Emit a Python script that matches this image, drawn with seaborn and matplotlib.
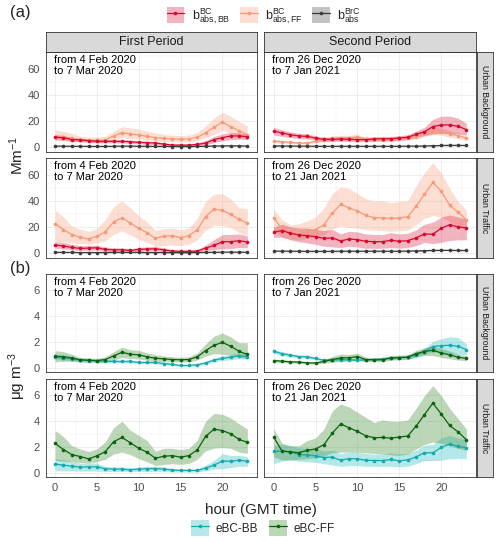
import numpy as np
import pandas as pd
import matplotlib
matplotlib.use("Agg")
import matplotlib.pyplot as plt
import seaborn as sns
from matplotlib.patches import Patch
from matplotlib.lines import Line2D
from matplotlib.legend_handler import HandlerTuple

sns.set_style("white")
plt.rcParams['font.family'] = ['Liberation Sans', 'DejaVu Sans']
plt.rcParams['mathtext.fontset'] = 'custom'
plt.rcParams['mathtext.rm'] = 'Liberation Sans'
plt.rcParams['mathtext.it'] = 'Liberation Sans'

hours = list(range(24))
periods = ["First Period", "Second Period"]
sites = ["Urban Background", "Urban Traffic"]
period_text = {
    ("Urban Background", "First Period"): "from 4 Feb 2020\nto 7 Mar 2020",
    ("Urban Traffic", "First Period"): "from 4 Feb 2020\nto 7 Mar 2020",
    ("Urban Background", "Second Period"): "from 26 Dec 2020\nto 7 Jan 2021",
    ("Urban Traffic", "Second Period"): "from 26 Dec 2020\nto 21 Jan 2021",
}
x_ticks = [0, 5, 10, 15, 20]

# ---------------- (a) absorption coefficients, Mm-1 ----------------
# Urban Background, First Period
a_ub1_bb = [7.8, 7.5, 6.0, 5.8, 5.2, 4.7, 4.7, 4.7, 4.7, 4.4, 3.9, 3.7, 3.4, 2.6, 1.8, 1.8, 1.8, 2.3, 3.4, 6.0, 7.5, 8.8, 8.8, 8.3]
a_ub1_bb_lo = [5.8, 5.8, 4.6, 4.5, 4.0, 3.6, 3.6, 3.5, 3.5, 3.2, 2.8, 2.6, 2.3, 1.6, 0.9, 0.9, 0.9, 1.3, 2.0, 3.8, 5.0, 6.0, 6.3, 6.0]
a_ub1_bb_hi = [9.8, 9.3, 7.5, 7.2, 6.5, 5.9, 5.9, 5.9, 5.9, 5.6, 5.0, 4.8, 4.5, 3.6, 2.7, 2.7, 2.8, 3.5, 5.2, 8.5, 10.3, 11.5, 11.2, 10.5]
a_ub1_ff = [8.3, 8.0, 7.2, 6.0, 5.6, 5.6, 5.8, 8.8, 11.4, 10.3, 9.6, 8.5, 7.6, 7.0, 6.6, 6.3, 6.5, 7.8, 11.2, 15.5, 19.4, 16.0, 12.8, 9.8]
a_ub1_ff_lo = [5.5, 5.3, 4.8, 4.0, 3.7, 3.7, 3.9, 5.8, 7.5, 6.8, 6.3, 5.6, 5.0, 4.6, 4.4, 4.2, 4.3, 5.2, 7.4, 10.0, 13.0, 11.0, 8.5, 6.5]
a_ub1_ff_hi = [13.5, 12.5, 10.5, 8.5, 8.0, 8.0, 8.5, 12.5, 16.0, 15.0, 14.0, 12.5, 11.0, 10.0, 9.5, 9.0, 9.5, 11.5, 16.5, 22.5, 27.0, 24.0, 20.0, 16.5]
a_ub1_brc = [1.0, 1.0, 0.9, 0.9, 0.8, 0.8, 0.8, 0.9, 1.0, 1.0, 0.9, 0.9, 0.8, 0.8, 0.7, 0.7, 0.7, 0.8, 0.9, 1.1, 1.2, 1.2, 1.2, 1.1]
a_ub1_brc_lo = [0.7, 0.7, 0.6, 0.6, 0.5, 0.5, 0.5, 0.6, 0.7, 0.7, 0.6, 0.6, 0.5, 0.5, 0.4, 0.4, 0.4, 0.5, 0.6, 0.8, 0.9, 0.9, 0.9, 0.8]
a_ub1_brc_hi = [1.3, 1.3, 1.2, 1.2, 1.1, 1.1, 1.1, 1.2, 1.3, 1.3, 1.2, 1.2, 1.1, 1.1, 1.0, 1.0, 1.0, 1.1, 1.2, 1.4, 1.5, 1.5, 1.5, 1.4]

# Urban Background, Second Period
a_ub2_bb = [12.7, 11.1, 9.8, 8.8, 8.5, 7.2, 6.2, 6.2, 6.5, 6.2, 6.0, 6.0, 6.5, 6.7, 6.7, 7.2, 7.8, 10.1, 12.1, 16.0, 17.3, 17.3, 16.3, 13.7]
a_ub2_bb_lo = [9.5, 8.5, 7.5, 6.8, 6.5, 5.5, 4.5, 4.5, 4.8, 4.5, 4.3, 4.3, 4.8, 5.0, 5.0, 5.5, 6.0, 7.8, 9.0, 10.5, 10.8, 10.8, 10.5, 9.5]
a_ub2_bb_hi = [15.5, 13.5, 12.0, 10.8, 10.5, 9.0, 8.0, 8.0, 8.2, 8.0, 7.8, 7.8, 8.2, 8.5, 8.5, 9.0, 9.8, 12.5, 15.5, 21.5, 24.0, 24.0, 22.5, 18.5]
a_ub2_ff = [4.9, 4.4, 3.9, 3.4, 3.4, 4.7, 5.7, 7.0, 7.5, 7.5, 8.0, 6.5, 6.2, 5.9, 6.2, 7.0, 7.5, 8.3, 10.9, 13.0, 12.1, 10.5, 9.0, 7.2]
a_ub2_ff_lo = [3.8, 3.4, 3.0, 2.6, 2.6, 3.5, 4.3, 5.3, 5.7, 5.7, 6.0, 5.0, 4.8, 4.6, 4.8, 5.4, 5.8, 6.5, 8.5, 10.0, 9.3, 8.0, 6.8, 5.5]
a_ub2_ff_hi = [6.0, 5.4, 4.8, 4.2, 4.2, 5.9, 7.1, 8.7, 9.3, 9.3, 10.0, 8.0, 7.6, 7.2, 7.6, 8.6, 9.2, 10.1, 13.3, 16.0, 15.0, 13.0, 11.2, 9.0]
a_ub2_brc = [1.2, 1.1, 1.1, 1.0, 1.0, 0.9, 0.9, 0.9, 0.9, 0.9, 0.9, 0.9, 0.9, 0.9, 0.9, 0.9, 1.0, 1.0, 1.1, 1.3, 1.5, 1.6, 1.6, 1.5]
a_ub2_brc_lo = [0.9, 0.8, 0.8, 0.7, 0.7, 0.6, 0.6, 0.6, 0.6, 0.6, 0.6, 0.6, 0.6, 0.6, 0.6, 0.6, 0.7, 0.7, 0.8, 1.0, 1.1, 1.2, 1.2, 1.1]
a_ub2_brc_hi = [1.5, 1.4, 1.4, 1.3, 1.3, 1.2, 1.2, 1.2, 1.2, 1.2, 1.2, 1.2, 1.2, 1.2, 1.2, 1.2, 1.3, 1.3, 1.4, 1.6, 1.9, 2.0, 2.0, 1.9]

# Urban Traffic, First Period
a_ut1_bb = [6.5, 5.7, 4.6, 3.9, 4.1, 4.4, 3.1, 2.8, 2.8, 2.3, 3.1, 3.4, 3.6, 2.8, 1.8, 1.6, 1.6, 1.8, 4.1, 6.2, 9.0, 9.0, 9.8, 8.8]
a_ut1_bb_lo = [4.0, 3.5, 2.8, 2.3, 2.4, 2.6, 1.7, 1.5, 1.5, 1.2, 1.7, 1.9, 2.0, 1.5, 0.9, 0.8, 0.8, 0.9, 2.0, 3.0, 3.5, 3.8, 4.5, 4.3]
a_ut1_bb_hi = [9.0, 8.5, 7.0, 6.0, 6.2, 6.5, 4.8, 4.3, 4.3, 3.6, 4.6, 5.0, 5.4, 4.3, 2.9, 2.5, 2.5, 2.8, 6.5, 10.5, 14.5, 14.5, 15.0, 13.5]
a_ut1_ff = [22.7, 18.3, 14.5, 12.4, 11.1, 13.2, 16.5, 24.3, 27.4, 23.3, 19.4, 15.8, 11.6, 13.2, 13.7, 12.1, 13.7, 18.1, 28.2, 34.1, 33.1, 30.0, 26.1, 23.3]
a_ut1_ff_lo = [9.0, 9.0, 8.0, 7.5, 7.0, 8.0, 10.0, 14.5, 17.5, 14.0, 11.0, 8.5, 5.5, 6.0, 6.5, 6.0, 7.0, 10.5, 18.0, 21.5, 21.5, 20.0, 16.0, 14.0]
a_ut1_ff_hi = [33.0, 28.0, 21.0, 18.5, 17.0, 19.0, 26.0, 36.0, 40.5, 35.0, 29.0, 24.0, 17.5, 19.0, 19.5, 18.0, 19.5, 27.0, 40.0, 45.5, 46.0, 42.0, 35.0, 34.5]
a_ut1_brc = [0.9, 0.8, 0.8, 0.7, 0.7, 0.7, 0.7, 0.8, 0.8, 0.8, 0.8, 0.7, 0.7, 0.7, 0.6, 0.6, 0.6, 0.7, 0.8, 0.9, 1.0, 1.0, 1.0, 0.9]
a_ut1_brc_lo = [0.6, 0.5, 0.5, 0.4, 0.4, 0.4, 0.4, 0.5, 0.5, 0.5, 0.5, 0.4, 0.4, 0.4, 0.3, 0.3, 0.3, 0.4, 0.5, 0.6, 0.7, 0.7, 0.7, 0.6]
a_ut1_brc_hi = [1.2, 1.1, 1.1, 1.0, 1.0, 1.0, 1.0, 1.1, 1.1, 1.1, 1.1, 1.0, 1.0, 1.0, 0.9, 0.9, 0.9, 1.0, 1.1, 1.2, 1.3, 1.3, 1.3, 1.2]

# Urban Traffic, Second Period
a_ut2_bb = [16.3, 17.6, 15.5, 14.2, 13.7, 12.9, 11.6, 11.9, 9.6, 11.1, 10.6, 9.3, 9.0, 9.0, 10.1, 9.3, 9.8, 11.9, 15.0, 14.7, 19.4, 22.0, 20.4, 19.6]
a_ut2_bb_lo = [12.4, 12.5, 10.5, 9.0, 8.0, 7.0, 5.5, 5.0, 4.6, 5.5, 5.0, 4.0, 4.0, 4.0, 4.5, 4.0, 4.5, 6.0, 8.5, 7.5, 8.5, 10.0, 10.5, 10.5]
a_ut2_bb_hi = [20.0, 22.5, 20.5, 19.5, 19.5, 18.5, 17.5, 18.5, 15.0, 17.0, 16.5, 15.0, 14.5, 14.5, 16.0, 15.0, 15.5, 18.0, 22.5, 24.0, 27.9, 29.5, 28.0, 26.5]
a_ut2_ff = [27.4, 18.9, 15.5, 14.5, 17.0, 18.3, 22.0, 31.0, 37.7, 35.0, 32.6, 29.2, 27.4, 27.4, 26.9, 27.4, 28.2, 36.2, 45.5, 54.5, 47.8, 37.0, 31.8, 25.8]
a_ut2_ff_lo = [17.6, 12.5, 11.0, 10.5, 11.5, 12.5, 14.5, 19.0, 21.0, 20.0, 19.5, 18.5, 18.0, 17.5, 17.0, 17.5, 18.0, 22.0, 27.0, 29.0, 28.0, 24.5, 21.0, 18.0]
a_ut2_ff_hi = [34.0, 26.0, 22.0, 22.7, 25.0, 28.0, 35.0, 46.0, 51.0, 50.0, 46.0, 42.0, 40.0, 40.5, 39.0, 40.0, 40.5, 52.0, 62.0, 69.7, 62.0, 50.0, 40.0, 33.0]
a_ut2_brc = [1.8, 1.8, 1.7, 1.7, 1.6, 1.6, 1.6, 1.6, 1.7, 1.7, 1.7, 1.7, 1.7, 1.7, 1.7, 1.7, 1.8, 1.9, 2.1, 2.3, 2.4, 2.4, 2.3, 2.3]
a_ut2_brc_lo = [1.4, 1.4, 1.3, 1.3, 1.2, 1.2, 1.2, 1.2, 1.3, 1.3, 1.3, 1.3, 1.3, 1.3, 1.3, 1.3, 1.4, 1.5, 1.7, 1.9, 2.0, 2.0, 1.9, 1.9]
a_ut2_brc_hi = [2.2, 2.2, 2.1, 2.1, 2.0, 2.0, 2.0, 2.0, 2.1, 2.1, 2.1, 2.1, 2.1, 2.1, 2.1, 2.1, 2.2, 2.3, 2.5, 2.7, 2.8, 2.8, 2.7, 2.7]

# ---------------- (b) equivalent black carbon, ug m-3 ----------------
b_ub1_bb = [0.82, 0.74, 0.69, 0.59, 0.56, 0.54, 0.49, 0.49, 0.49, 0.49, 0.41, 0.41, 0.41, 0.33, 0.26, 0.18, 0.18, 0.23, 0.38, 0.59, 0.72, 0.82, 0.92, 0.85]
b_ub1_bb_lo = [0.68, 0.6, 0.56, 0.47, 0.45, 0.43, 0.38, 0.38, 0.38, 0.38, 0.31, 0.31, 0.31, 0.24, 0.18, 0.11, 0.11, 0.15, 0.27, 0.44, 0.55, 0.62, 0.7, 0.66]
b_ub1_bb_hi = [0.96, 0.88, 0.82, 0.71, 0.67, 0.65, 0.6, 0.6, 0.6, 0.6, 0.51, 0.51, 0.51, 0.42, 0.34, 0.25, 0.25, 0.31, 0.49, 0.76, 0.92, 1.05, 1.15, 1.08]
b_ub1_ff = [0.9, 0.87, 0.77, 0.62, 0.59, 0.56, 0.64, 0.92, 1.2, 1.05, 1.0, 0.85, 0.74, 0.69, 0.64, 0.62, 0.64, 0.85, 1.33, 1.74, 1.97, 1.67, 1.28, 1.03]
b_ub1_ff_lo = [0.45, 0.5, 0.5, 0.45, 0.42, 0.4, 0.45, 0.6, 0.8, 0.72, 0.68, 0.58, 0.5, 0.47, 0.45, 0.44, 0.45, 0.6, 0.9, 1.1, 1.05, 1.0, 0.85, 0.7]
b_ub1_ff_hi = [1.33, 1.25, 1.05, 0.8, 0.76, 0.73, 0.85, 1.25, 1.6, 1.4, 1.35, 1.15, 1.0, 0.92, 0.85, 0.82, 0.85, 1.15, 1.85, 2.45, 2.7, 2.4, 1.95, 1.95]

b_ub2_bb = [1.28, 1.1, 0.97, 0.87, 0.85, 0.72, 0.59, 0.62, 0.62, 0.62, 0.59, 0.62, 0.64, 0.69, 0.74, 0.79, 0.82, 0.97, 1.28, 1.64, 1.72, 1.74, 1.67, 1.41]
b_ub2_bb_lo = [1.1, 0.95, 0.85, 0.76, 0.74, 0.62, 0.5, 0.52, 0.52, 0.52, 0.5, 0.52, 0.54, 0.58, 0.62, 0.66, 0.68, 0.8, 1.05, 1.25, 1.15, 1.05, 1.05, 1.0]
b_ub2_bb_hi = [1.45, 1.25, 1.1, 0.98, 0.96, 0.83, 0.68, 0.72, 0.72, 0.72, 0.68, 0.72, 0.74, 0.8, 0.86, 0.92, 0.96, 1.15, 1.5, 2.05, 2.25, 2.4, 2.35, 1.85]
b_ub2_ff = [0.56, 0.51, 0.46, 0.44, 0.38, 0.36, 0.49, 0.64, 0.77, 0.77, 0.87, 0.64, 0.62, 0.62, 0.77, 0.79, 0.82, 1.1, 1.26, 1.36, 1.15, 1.0, 0.82, 0.72]
b_ub2_ff_lo = [0.45, 0.4, 0.36, 0.34, 0.3, 0.28, 0.35, 0.42, 0.5, 0.52, 0.6, 0.48, 0.48, 0.48, 0.6, 0.62, 0.65, 0.85, 0.95, 0.95, 0.8, 0.7, 0.6, 0.55]
b_ub2_ff_hi = [0.68, 0.62, 0.56, 0.54, 0.48, 0.46, 0.65, 0.88, 1.05, 1.03, 1.12, 0.82, 0.78, 0.78, 0.95, 0.98, 1.0, 1.35, 1.55, 1.7, 1.5, 1.3, 1.05, 0.92]

b_ut1_bb = [0.67, 0.59, 0.51, 0.44, 0.46, 0.46, 0.31, 0.28, 0.28, 0.23, 0.28, 0.31, 0.33, 0.28, 0.21, 0.18, 0.18, 0.18, 0.36, 0.59, 0.9, 0.9, 0.97, 0.9]
b_ut1_bb_lo = [0.15, 0.15, 0.15, 0.13, 0.13, 0.13, 0.1, 0.1, 0.1, 0.08, 0.1, 0.1, 0.12, 0.1, 0.07, 0.06, 0.06, 0.06, 0.15, 0.3, 0.31, 0.4, 0.5, 0.5]
b_ut1_bb_hi = [1.1, 1.0, 0.85, 0.75, 0.75, 0.75, 0.5, 0.45, 0.45, 0.38, 0.45, 0.5, 0.52, 0.45, 0.35, 0.3, 0.3, 0.3, 0.6, 0.95, 1.49, 1.35, 1.35, 1.25]
b_ut1_ff = [2.28, 1.8, 1.41, 1.26, 1.08, 1.31, 1.64, 2.41, 2.74, 2.33, 1.9, 1.59, 1.13, 1.28, 1.33, 1.21, 1.33, 1.77, 2.82, 3.38, 3.28, 3.03, 2.59, 2.36]
b_ut1_ff_lo = [0.97, 0.9, 0.85, 0.8, 0.75, 0.85, 1.05, 1.45, 1.6, 1.4, 1.1, 0.85, 0.56, 0.65, 0.7, 0.65, 0.72, 1.05, 1.7, 1.9, 1.95, 1.9, 1.6, 1.5]
b_ut1_ff_hi = [3.28, 2.8, 2.1, 1.85, 1.65, 1.85, 2.4, 3.5, 4.0, 3.3, 2.9, 2.5, 1.67, 1.9, 1.9, 1.8, 1.9, 2.55, 4.0, 4.6, 4.55, 4.25, 3.8, 3.4]

b_ut2_bb = [1.67, 1.67, 1.62, 1.41, 1.38, 1.31, 1.18, 1.21, 0.97, 1.1, 1.08, 0.97, 0.95, 0.95, 1.03, 0.92, 1.0, 1.23, 1.56, 1.54, 1.97, 2.23, 2.05, 1.95]
b_ut2_bb_lo = [0.7, 0.9, 1.0, 0.9, 0.85, 0.8, 0.7, 0.6, 0.5, 0.55, 0.55, 0.5, 0.5, 0.5, 0.5, 0.45, 0.5, 0.7, 0.95, 0.95, 0.97, 1.1, 1.1, 1.1]
b_ut2_bb_hi = [2.1, 2.2, 2.1, 1.95, 1.9, 1.85, 1.7, 1.75, 1.5, 1.6, 1.6, 1.5, 1.45, 1.45, 1.55, 1.45, 1.5, 1.75, 2.15, 2.2, 2.7, 2.9, 2.7, 2.6]
b_ut2_ff = [2.77, 1.69, 1.62, 1.56, 1.74, 1.85, 2.18, 3.08, 3.79, 3.49, 3.21, 2.87, 2.72, 2.74, 2.69, 2.77, 2.85, 3.62, 4.51, 5.41, 4.56, 3.67, 3.18, 2.56]
b_ut2_ff_lo = [1.23, 1.0, 1.0, 1.05, 1.1, 1.15, 1.3, 1.55, 1.6, 1.6, 1.6, 1.55, 1.5, 1.45, 1.4, 1.35, 1.45, 1.85, 2.2, 2.38, 2.3, 2.1, 1.9, 1.75]
b_ut2_ff_hi = [3.4, 2.3, 2.1, 2.1, 2.5, 2.7, 3.4, 4.8, 5.35, 5.1, 4.7, 4.3, 3.9, 4.1, 4.0, 4.0, 4.1, 5.0, 6.0, 6.76, 6.0, 5.0, 4.2, 3.4]

# ---------------- build tidy tables ----------------
def rows(site, period, series, mean, lo, hi):
    return pd.DataFrame({"hour": hours, "value": mean, "lo": lo, "hi": hi,
                         "series": series, "site": site, "period": period})

df_a = pd.concat([
    rows("Urban Background", "First Period", "BB", a_ub1_bb, a_ub1_bb_lo, a_ub1_bb_hi),
    rows("Urban Background", "First Period", "FF", a_ub1_ff, a_ub1_ff_lo, a_ub1_ff_hi),
    rows("Urban Background", "First Period", "BrC", a_ub1_brc, a_ub1_brc_lo, a_ub1_brc_hi),
    rows("Urban Background", "Second Period", "BB", a_ub2_bb, a_ub2_bb_lo, a_ub2_bb_hi),
    rows("Urban Background", "Second Period", "FF", a_ub2_ff, a_ub2_ff_lo, a_ub2_ff_hi),
    rows("Urban Background", "Second Period", "BrC", a_ub2_brc, a_ub2_brc_lo, a_ub2_brc_hi),
    rows("Urban Traffic", "First Period", "BB", a_ut1_bb, a_ut1_bb_lo, a_ut1_bb_hi),
    rows("Urban Traffic", "First Period", "FF", a_ut1_ff, a_ut1_ff_lo, a_ut1_ff_hi),
    rows("Urban Traffic", "First Period", "BrC", a_ut1_brc, a_ut1_brc_lo, a_ut1_brc_hi),
    rows("Urban Traffic", "Second Period", "BB", a_ut2_bb, a_ut2_bb_lo, a_ut2_bb_hi),
    rows("Urban Traffic", "Second Period", "FF", a_ut2_ff, a_ut2_ff_lo, a_ut2_ff_hi),
    rows("Urban Traffic", "Second Period", "BrC", a_ut2_brc, a_ut2_brc_lo, a_ut2_brc_hi),
])
df_b = pd.concat([
    rows("Urban Background", "First Period", "eBC-BB", b_ub1_bb, b_ub1_bb_lo, b_ub1_bb_hi),
    rows("Urban Background", "First Period", "eBC-FF", b_ub1_ff, b_ub1_ff_lo, b_ub1_ff_hi),
    rows("Urban Background", "Second Period", "eBC-BB", b_ub2_bb, b_ub2_bb_lo, b_ub2_bb_hi),
    rows("Urban Background", "Second Period", "eBC-FF", b_ub2_ff, b_ub2_ff_lo, b_ub2_ff_hi),
    rows("Urban Traffic", "First Period", "eBC-BB", b_ut1_bb, b_ut1_bb_lo, b_ut1_bb_hi),
    rows("Urban Traffic", "First Period", "eBC-FF", b_ut1_ff, b_ut1_ff_lo, b_ut1_ff_hi),
    rows("Urban Traffic", "Second Period", "eBC-BB", b_ut2_bb, b_ut2_bb_lo, b_ut2_bb_hi),
    rows("Urban Traffic", "Second Period", "eBC-FF", b_ut2_ff, b_ut2_ff_lo, b_ut2_ff_hi),
])

line_col_a = {"BB": "#D7082E", "FF": "#F59A78", "BrC": "#3A3A3A"}
fill_col_a = {"BB": "#D7082E", "FF": "#F9A27F", "BrC": "#888888"}
fill_alpha_a = {"BB": 0.3, "FF": 0.35, "BrC": 0.5}
line_col_b = {"eBC-BB": "#14A9AE", "eBC-FF": "#0A640F"}
fill_col_b = {"eBC-BB": "#2CC0C0", "eBC-FF": "#3E8E32"}
fill_alpha_b = {"eBC-BB": 0.35, "eBC-FF": 0.35}

# ---------------- figure and layout (pixel geometry) ----------------
W, H = 500, 542
fig = plt.figure(figsize=(W / 100, H / 100), dpi=100)

def add_px(x0, y0, x1, y1, **kw):
    return fig.add_axes([x0 / W, 1 - y1 / H, (x1 - x0) / W, (y1 - y0) / H], **kw)

col_x = [(45.5, 257), (264, 476)]
rows_a = [(52, 152), (158, 258)]
rows_b = [(274, 372), (379, 477)]
EDGE = "#333333"

def strip(x0, y0, x1, y1, text, rot=0, size=8.5):
    s = add_px(x0, y0, x1, y1)
    s.set_facecolor("#D9D9D9")
    s.set_xticks([]); s.set_yticks([])
    for sp in s.spines.values():
        sp.set_color(EDGE); sp.set_linewidth(0.6)
    s.text(0.5, 0.5, text, rotation=rot, ha="center", va="center",
           fontsize=size, color="#1A1A1A", transform=s.transAxes)

def style_panel(ax, ylim, yt, ymin, show_y, show_x):
    ax.set_xlim(-1.15, 24.15)
    ax.set_ylim(*ylim)
    ax.set_xticks(x_ticks)
    ax.set_xticks([2.5, 7.5, 12.5, 17.5, 22.5], minor=True)
    ax.set_yticks(yt)
    ax.set_yticks(ymin, minor=True)
    ax.grid(which="major", color="#EBEBEB", linewidth=0.6)
    ax.grid(which="minor", color="#F2F2F2", linewidth=0.35)
    ax.set_axisbelow(True)
    for sp in ax.spines.values():
        sp.set_color(EDGE); sp.set_linewidth(0.6)
    ax.tick_params(which="minor", length=0)
    ax.tick_params(axis="y", which="major", length=2.5 if show_y else 0,
                   color=EDGE, width=0.6, labelsize=8, labelcolor="#4D4D4D",
                   labelleft=show_y, pad=1.5)
    ax.tick_params(axis="x", which="major", length=2.5 if show_x else 0,
                   color=EDGE, width=0.6, labelsize=8, labelcolor="#4D4D4D",
                   labelbottom=show_x, pad=1.5)
    ax.set_xlabel(""); ax.set_ylabel("")

def draw(ax, df, order, lcol, fcol, falpha):
    for s in order:
        d = df[df.series == s]
        ax.fill_between(d.hour, d.lo, d.hi, color=fcol[s], alpha=falpha[s],
                        linewidth=0, zorder=1)
    for s in order:
        d = df[df.series == s]
        sns.lineplot(data=d, x="hour", y="value", color=lcol[s], ax=ax,
                     marker="o", markersize=2.6, markeredgewidth=0,
                     linewidth=0.9, legend=False, errorbar=None, zorder=3)

# (a) panels
for i, site in enumerate(sites):
    for j, per in enumerate(periods):
        x0, x1 = col_x[j]; y0, y1 = rows_a[i]
        ax = add_px(x0, y0, x1, y1)
        d = df_a[(df_a.site == site) & (df_a.period == per)]
        draw(ax, d, ["FF", "BB", "BrC"], line_col_a, fill_col_a, fill_alpha_a)
        style_panel(ax, (-3.5, 73.3), [0, 20, 40, 60], [10, 30, 50, 70], j == 0, False)
        ax.text(0.04, 0.97, period_text[(site, per)], transform=ax.transAxes,
                ha="left", va="top", fontsize=8, color="black", linespacing=1.15)
    strip(477, rows_a[i][0], 493, rows_a[i][1], site, rot=-90, size=6.3)
for j, per in enumerate(periods):
    strip(col_x[j][0], 32, col_x[j][1], 52, per, size=9)

# (b) panels
for i, site in enumerate(sites):
    for j, per in enumerate(periods):
        x0, x1 = col_x[j]; y0, y1 = rows_b[i]
        ax = add_px(x0, y0, x1, y1)
        d = df_b[(df_b.site == site) & (df_b.period == per)]
        draw(ax, d, ["eBC-BB", "eBC-FF"], line_col_b, fill_col_b, fill_alpha_b)
        style_panel(ax, (-0.33, 7.28), [0, 2, 4, 6], [1, 3, 5, 7], j == 0, i == 1)
        ax.text(0.04, 0.97, period_text[(site, per)], transform=ax.transAxes,
                ha="left", va="top", fontsize=8, color="black", linespacing=1.15)
    strip(477, rows_b[i][0], 493, rows_b[i][1], site, rot=-90, size=6.3)

# titles and panel labels
fig.text(10 / W, 1 - 13 / H, "(a)", fontsize=12, ha="left", va="center")
fig.text(10 / W, 1 - 268 / H, "(b)", fontsize=12, ha="left", va="center")
fig.text(17 / W, 1 - 155 / H, "Mm$^{-1}$", fontsize=11, rotation=90, ha="center", va="center")
fig.text(17 / W, 1 - 376 / H, "μg m$^{-3}$", fontsize=11, rotation=90, ha="center", va="center")
fig.text(261 / W, 1 - 510 / H, "hour (GMT time)", fontsize=11, ha="center", va="center")

# legends
def key(series, lcol, fcol, falpha):
    return (Patch(facecolor=fcol[series], alpha=falpha[series], edgecolor="none"),
            Line2D([], [], color=lcol[series], marker="o", markersize=2.6,
                   markeredgewidth=0, linewidth=0.9))

h_a = [key(s, line_col_a, fill_col_a, fill_alpha_a) for s in ["BB", "FF", "BrC"]]
lab_a = [r"$\mathregular{b^{BC}_{abs,BB}}$", r"$\mathregular{b^{BC}_{abs,FF}}$",
         r"$\mathregular{b^{BrC}_{abs}}$"]
fig.legend(h_a, lab_a, ncol=3, loc="center", bbox_to_anchor=(264 / W, 1 - 16 / H),
           frameon=False, handler_map={tuple: HandlerTuple(ndivide=1)},
           handlelength=1.4, handleheight=1.6, handletextpad=0.6, columnspacing=0.8,
           fontsize=9)

h_b = [key(s, line_col_b, fill_col_b, fill_alpha_b) for s in ["eBC-BB", "eBC-FF"]]
fig.legend(h_b, ["eBC-BB", "eBC-FF"], ncol=2, loc="center",
           bbox_to_anchor=(263 / W, 1 - 528 / H), frameon=False,
           handler_map={tuple: HandlerTuple(ndivide=1)},
           handlelength=1.5, handleheight=1.6, handletextpad=0.6, columnspacing=0.9,
           fontsize=8.5)

fig.savefig("out.png", dpi=100)
